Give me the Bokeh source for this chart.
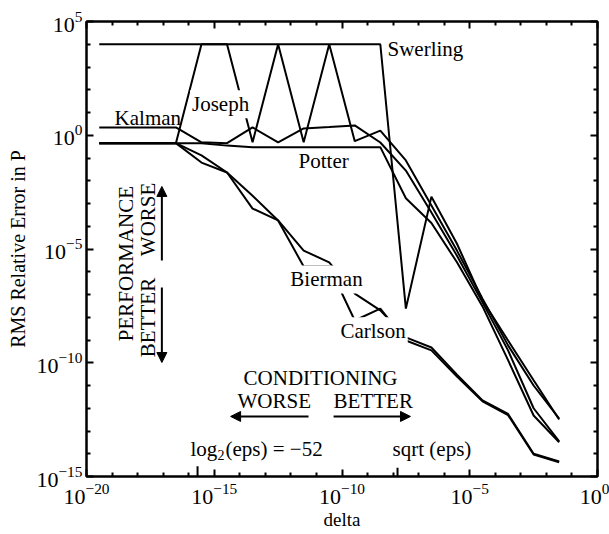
import math
from bokeh.plotting import figure
from bokeh.models import (FixedTicker, LogAxis, Label, Arrow, NormalHead,
                          CustomJSTickFormatter)
from bokeh.embed import file_html
from bokeh.resources import INLINE

FONT = "Liberation Serif"

# ---- data ----
delta = [3.16e-20, 3.16e-19, 3.16e-18, 3.16e-17, 3.16e-16, 3.16e-15, 3.16e-14,
         3.16e-13, 3.16e-12, 3.16e-11, 3.16e-10, 3.16e-9, 3.16e-8, 3.16e-7,
         3.16e-6, 3.16e-5, 3.16e-4, 3.16e-3, 3.16e-2]

swerling = [1e4, 1e4, 1e4, 1e4, 1e4, 1e4, 1e4, 1e4, 1e4, 1e4, 1e4, 1e4,
            2.4e-8, 2.0e-3, 1.7e-5, 5.5e-8, 9.5e-10, 1.7e-11, 3.2e-13]
joseph = [0.45, 0.45, 0.45, 0.45, 1e4, 1e4, 0.49, 1e4, 0.49, 1e4, 0.55, 1.6,
          7.8e-2, 8.1e-4, 8.5e-6, 6.6e-8, 5.8e-10, 1.0e-11, 3.5e-13]
kalman = [2.2, 2.2, 2.2, 2.2, 0.49, 0.45, 2.2, 0.49, 2.0, 2.3, 2.7, 0.48,
          2.8e-2, 4.0e-4, 5.1e-6, 4.5e-8, 3.5e-10, 1.0e-12, 3.5e-14]
potter = [0.45, 0.45, 0.45, 0.45, 0.45, 0.35, 0.30, 0.30, 0.30, 0.30, 0.30, 0.30,
          1.7e-3, 1.4e-4, 2.6e-6, 3.0e-8, 1.3e-10, 4.8e-13, 3.2e-14]
bierman = [0.45, 0.45, 0.45, 0.45, 0.13, 2.3e-2, 2.2e-3, 1.8e-4, 8.5e-6, 2.6e-6,
           1.1e-7, 2.0e-8, 1.3e-9, 4.7e-10, 3.0e-11, 2.2e-12, 5.6e-13, 1.0e-14, 4.6e-15]
carlson = [0.45, 0.45, 0.45, 0.45, 6.3e-2, 2.3e-2, 6.0e-4, 1.8e-4, 1.7e-6, 1.7e-6,
           7.2e-9, 2.4e-8, 9.5e-10, 3.5e-10, 2.5e-11, 2.0e-12, 5.0e-13, 9.3e-15, 4.2e-15]

x_major = [1e-20, 1e-15, 1e-10, 1e-5, 1e0]
x_minor = [1e-19, 1e-18, 1e-17, 1e-16, 1e-14, 1e-13, 1e-12, 1e-11, 1e-9, 1e-8,
           1e-7, 1e-6, 1e-4, 1e-3, 1e-2, 1e-1]
y_major = [1e-15, 1e-10, 1e-5, 1e0, 1e5]
y_minor = [1e-14, 1e-13, 1e-12, 1e-11, 1e-9, 1e-8, 1e-7, 1e-6, 1e-4, 1e-3,
           1e-2, 1e-1, 1e1, 1e2, 1e3, 1e4]

# marked deltas: 2^-52 (machine eps) and 2^-26 (sqrt eps)
eps_marks = [2.0 ** -52, 2.0 ** -26]

# ---- figure ----
p = figure(width=609, height=534, x_axis_type="log", y_axis_type="log",
           x_range=(1e-20, 1e0), y_range=(1e-15, 1e5),
           output_backend="svg", toolbar_location=None,
           min_border_left=86, min_border_right=12, min_border_top=21,
           min_border_bottom=58)
p.xgrid.visible = False
p.ygrid.visible = False
p.outline_line_color = "black"
p.outline_line_width = 2
p.background_fill_color = "white"
p.border_fill_color = "white"

xt = FixedTicker(ticks=x_major, minor_ticks=x_minor)
yt = FixedTicker(ticks=y_major, minor_ticks=y_minor)


def style_axis(ax):
    ax.axis_line_color = "black"
    ax.axis_line_width = 2
    ax.major_tick_in = 7
    ax.major_tick_out = 0
    ax.minor_tick_in = 4
    ax.minor_tick_out = 0
    ax.major_tick_line_width = 2
    ax.minor_tick_line_width = 2
    ax.major_label_text_font = FONT
    ax.major_label_text_font_size = "22px"
    ax.major_label_text_color = "black"
    ax.axis_label_text_font = FONT
    ax.axis_label_text_font_size = "20px"
    ax.axis_label_text_font_style = "normal"
    ax.axis_label_text_color = "black"


p.xaxis.ticker = xt
p.yaxis.ticker = yt
for ax in (p.xaxis[0], p.yaxis[0]):
    style_axis(ax)
p.xaxis.axis_label = "delta"
p.xaxis.axis_label_text_font_size = "19px"
p.yaxis.axis_label = "RMS Relative Error in P"
p.xaxis.major_label_standoff = 7
p.xaxis.axis_label_standoff = 2
p.yaxis.major_label_standoff = 4
p.yaxis.axis_label_standoff = 4

blank = CustomJSTickFormatter(code="return ''")
top = LogAxis(ticker=xt, formatter=blank)
right = LogAxis(ticker=yt, formatter=blank)
for ax in (top, right):
    style_axis(ax)
    ax.major_label_standoff = 0
    ax.major_label_text_font_size = "0px"
p.add_layout(top, "above")
p.add_layout(right, "right")

# ---- curves ----
for series in (swerling, joseph, kalman, potter, bierman, carlson):
    p.line(delta, series, line_color="black", line_width=2)

# eps markers standing on the bottom axis
p.segment(x0=eps_marks, y0=[1e-15, 1e-15], x1=eps_marks,
          y1=[10 ** -14.55, 10 ** -14.62], line_color="black", line_width=2)

# ---- labels ----
def lab(x, y, text, bg=False, **kw):
    opts = dict(x=x, y=y, text=text, text_font=FONT, text_font_size="21px",
                text_color="black", text_align="left", text_baseline="alphabetic")
    if bg:
        opts.update(background_fill_color="white", padding=2)
    opts.update(kw)
    p.add_layout(Label(**opts))


lab(10 ** -8.22, 10 ** 3.77, "Swerling")
lab(10 ** -15.95, 10 ** 1.36, "Joseph", bg=True)
lab(10 ** -18.90, 10 ** 0.74, "Kalman")
lab(10 ** -11.70, 10 ** -1.11, "Potter")
lab(10 ** -12.10, 10 ** -6.34, "Bierman", bg=True)
lab(10 ** -10.14, 10 ** -8.62, "Carlson", bg=True)

lab(10 ** -10.84, 10 ** -10.69, "CONDITIONING", text_align="center")
lab(10 ** -14.09, 10 ** -11.70, "WORSE")
lab(10 ** -10.33, 10 ** -11.70, "BETTER")

lab(10 ** -18.47, 10 ** -5.64, "PERFORMANCE", text_align="center", angle=math.pi / 2)
lab(10 ** -17.61, 10 ** -3.70, "WORSE", text_align="center", angle=math.pi / 2)
lab(10 ** -17.61, 10 ** -8.01, "BETTER", text_align="center", angle=math.pi / 2)

# log2(eps) = -52 with subscript
lab(10 ** -15.93, 10 ** -13.77, "log")
lab(10 ** -15.93, 10 ** -13.77, "2", text_font_size="14px", x_offset=27, y_offset=-6)
lab(10 ** -15.93, 10 ** -13.77, "(eps) = \u221252", x_offset=35)
lab(10 ** -8.02, 10 ** -13.77, "sqrt (eps)")

# ---- arrows ----
def arr(x0, y0, x1, y1):
    p.add_layout(Arrow(end=NormalHead(size=10, fill_color="black", line_color="black"),
                       x_start=x0, y_start=y0, x_end=x1, y_end=y1,
                       line_color="black", line_width=2))


arr(10 ** -11.31, 10 ** -12.36, 10 ** -14.36, 10 ** -12.36)
arr(10 ** -10.33, 10 ** -12.36, 10 ** -7.32, 10 ** -12.36)
arr(10 ** -17.05, 10 ** -5.5, 10 ** -17.05, 10 ** -2.25)
arr(10 ** -17.05, 10 ** -6.69, 10 ** -17.05, 10 ** -9.99)

open("out.html", "w").write(file_html(p, INLINE))
